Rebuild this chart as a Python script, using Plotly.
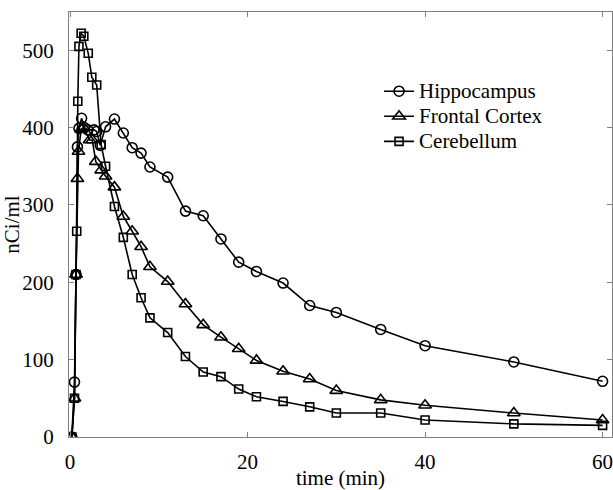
import plotly.graph_objects as go

# ---- data ----
hippo_t = [0.2, 0.5, 0.67, 0.83, 1.0, 1.3, 1.6, 2.0, 2.7, 3.0, 3.4, 4, 5, 6, 7, 8, 9, 11, 13, 15, 17, 19, 21, 24, 27, 30, 35, 40, 50, 60]
hippo_v = [0, 71, 210, 375, 399, 412, 400, 397, 397, 395, 377, 401, 411, 393, 374, 367, 349, 336, 292, 286, 256, 226, 214, 199, 170, 161, 139, 118, 97, 72]

frontal_t = [0.2, 0.5, 0.67, 0.83, 0.95, 1.25, 1.5, 2.2, 2.5, 2.9, 3.5, 4, 5, 6, 7, 8, 9, 11, 13, 15, 17, 19, 21, 24, 27, 30, 35, 40, 50, 60]
frontal_v = [0, 50, 210, 334, 369, 398, 400, 384, 384, 356, 345, 337, 323, 285, 266, 246, 220, 201, 172, 145, 129, 114, 99, 85, 75, 60, 48, 41, 31, 22]

cereb_t = [0.2, 0.5, 0.67, 0.75, 0.87, 1.0, 1.25, 1.55, 2.05, 2.45, 3.0, 3.5, 4, 5, 6, 7, 8, 9, 11, 13, 15, 17, 19, 21, 24, 27, 30, 35, 40, 50, 60]
cereb_v = [0, 50, 210, 266, 434, 505, 522, 518, 496, 465, 455, 378, 350, 298, 258, 210, 180, 154, 135, 104, 84, 78, 62, 52, 46, 39, 31, 31, 22, 17, 15]

names = ["Hippocampus", "Frontal Cortex", "Cerebellum"]
x_ticks = [0, 20, 40, 60]
y_ticks = [0, 100, 200, 300, 400, 500]

FONT = "Liberation Serif, Times New Roman, serif"

fig = go.Figure()
series = [(hippo_t, hippo_v, "circle-open", 10),
          (frontal_t, frontal_v, "triangle-up-open", 11),
          (cereb_t, cereb_v, "square-open", 8)]
for (t, v, sym, sz), nm in zip(series, names):
    fig.add_trace(go.Scatter(
        x=t, y=v, name='<span style="font-size:21px">' + nm + '</span>',
        mode="lines+markers",
        line=dict(color="black", width=1.6),
        marker=dict(symbol=sym, size=sz, color="black",
                    line=dict(color="black", width=1.6)),
    ))

axis_common = dict(
    showline=True, linecolor="#808080", linewidth=1, mirror="ticks",
    ticks="inside", ticklen=5, tickcolor="#808080", tickwidth=1,
    showgrid=False, zeroline=False, automargin=False,
    ticklabeloverflow="allow",
    tickfont=dict(family=FONT, size=21, color="black"),
)

fig.update_layout(
    width=613, height=490,
    margin=dict(l=69, r=1, t=12, b=53),
    paper_bgcolor="white", plot_bgcolor="white",
    font=dict(family=FONT, color="black"),
    xaxis=dict(range=[-0.12, 61.06], tickvals=x_ticks, ticklabelstandoff=6,
               title=dict(text="time (min)", font=dict(family=FONT, size=21), standoff=2),
               **axis_common),
    yaxis=dict(range=[0, 549.4], tickvals=y_ticks, ticklabelstandoff=10,
               title=dict(text="nCi/ml", font=dict(family=FONT, size=21), standoff=0),
               **axis_common),
    legend=dict(x=0.571, y=0.855, xanchor="left", yanchor="top",
                bgcolor="rgba(0,0,0,0)", borderwidth=0,
                font=dict(family=FONT, size=17, color="black"),
                itemwidth=30, tracegroupgap=0),
    showlegend=True,
)

fig.write_html("out.html", config={"displayModeBar": False},
               post_script="document.body.style.margin='0';")
